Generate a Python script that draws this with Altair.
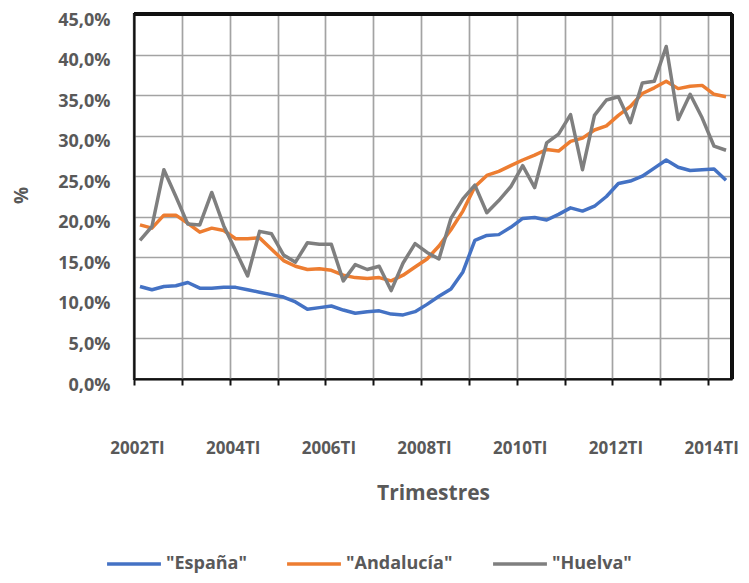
import json
import altair as alt
import pandas as pd

series_names = ['"España"', '"Andalucía"', '"Huelva"']
series_colors = ["#4472C4", "#ED7D31", "#7F7F7F"]

# Quarterly values, 2002TI .. 2014TII (50 quarters), in %
espana = [11.4, 11.0, 11.4, 11.5, 11.9, 11.2, 11.2, 11.3, 11.3, 11.0,
          10.7, 10.4, 10.1, 9.5, 8.6, 8.8, 9.0, 8.5, 8.1, 8.3,
          8.4, 8.0, 7.9, 8.3, 9.2, 10.2, 11.1, 13.2, 17.1, 17.7,
          17.8, 18.7, 19.8, 19.9, 19.6, 20.3, 21.1, 20.7, 21.3, 22.5,
          24.1, 24.4, 25.0, 26.0, 27.0, 26.1, 25.7, 25.8, 25.9, 24.5]
andalucia = [19.0, 18.6, 20.2, 20.2, 19.2, 18.1, 18.6, 18.3, 17.3, 17.3,
             17.4, 16.0, 14.6, 13.9, 13.5, 13.6, 13.4, 12.8, 12.5, 12.4,
             12.5, 12.1, 12.8, 13.8, 14.8, 16.4, 18.4, 20.7, 23.7, 25.1,
             25.6, 26.3, 27.0, 27.6, 28.3, 28.1, 29.3, 29.7, 30.7, 31.2,
             32.5, 33.6, 35.2, 35.9, 36.7, 35.8, 36.1, 36.2, 35.1, 34.8]
huelva = [17.1, 18.8, 25.8, 22.5, 19.1, 19.0, 23.0, 18.9, 15.8, 12.7,
          18.2, 17.9, 15.3, 14.4, 16.8, 16.6, 16.6, 12.1, 14.1, 13.5,
          13.9, 10.9, 14.3, 16.7, 15.6, 14.8, 19.8, 22.2, 23.9, 20.5,
          22.0, 23.7, 26.3, 23.6, 29.1, 30.2, 32.6, 25.8, 32.5, 34.4,
          34.8, 31.6, 36.5, 36.7, 41.0, 32.0, 35.1, 32.2, 28.7, 28.2]

tick_labels = ["2002TI", "2004TI", "2006TI", "2008TI", "2010TI", "2012TI", "2014TI"]
y_ticks = [0, 5, 10, 15, 20, 25, 30, 35, 40, 45]

rows = []
for name, vals in zip(series_names, [espana, andalucia, huelva]):
    for i, v in enumerate(vals):
        rows.append({"idx": i, "series": name, "value": v})
df = pd.DataFrame(rows)

n = len(espana)
x_domain = [-0.5, n - 0.5]
y_domain = [0, 45]
grid_values = [-0.5 + 4 * k for k in range(13)]

FONT = "Open Sans"
TXT = "#595959"
FRAME = "#111111"
GRID = "#a3a3a3"

x_scale = alt.Scale(domain=x_domain, nice=False, zero=False)
y_scale = alt.Scale(domain=y_domain, nice=False)

x_label_expr = (
    "(datum.value + 0.5) % 8 == 0 ? "
    + json.dumps(tick_labels)
    + "[(datum.value + 0.5) / 8] : ''"
)

lines = (
    alt.Chart(df)
    .mark_line(strokeWidth=3.5, strokeJoin="round")
    .encode(
        x=alt.X(
            "idx:Q",
            scale=x_scale,
            axis=alt.Axis(
                values=grid_values,
                labelExpr=x_label_expr,
                labelOffset=3,
                labelOverlap=False,
                labelFlush=False,
                labelBound=False,
                labelPadding=63,
                labelBaseline="middle",
                labelFont=FONT,
                labelFontSize=17,
                labelFontWeight="bold",
                labelColor=TXT,
                ticks=True,
                tickSize=6,
                tickWidth=2,
                tickColor=FRAME,
                grid=True,
                gridColor=GRID,
                gridWidth=1.7,
                domainColor=FRAME,
                domainWidth=2,
                title="Trimestres",
                titleFont=FONT,
                titleFontSize=21,
                titleFontWeight="bold",
                titleColor=TXT,
                titleBaseline="middle",
                titleY=114,
            ),
        ),
        y=alt.Y(
            "value:Q",
            scale=y_scale,
            axis=alt.Axis(
                values=y_ticks,
                labelExpr="replace(format(datum.value, '.1f'), '.', ',') + '%'",
                labelFont=FONT,
                labelFontSize=18,
                labelFontWeight="bold",
                labelColor=TXT,
                labelPadding=24,
                labelOffset=6,
                ticks=False,
                grid=True,
                gridColor=GRID,
                gridWidth=1.7,
                domainColor=FRAME,
                domainWidth=2,
                title="%",
                titleFont=FONT,
                titleFontSize=19,
                titleFontWeight="bold",
                titleColor=TXT,
                titleX=-113,
                titleY=181,
                titleBaseline="middle",
            ),
        ),
        color=alt.Color(
            "series:N",
            scale=alt.Scale(domain=series_names, range=series_colors),
            legend=alt.Legend(
                orient="none",
                legendX=-29,
                legendY=521,
                direction="horizontal",
                title=None,
                symbolType="stroke",
                symbolSize=2900,
                symbolStrokeWidth=3.5,
                labelFont=FONT,
                labelFontSize=18,
                labelFontWeight="bold",
                labelColor=TXT,
                labelOffset=3,
                columnPadding=33,
            ),
        ),
    )
)

# plot-area frame (top and right edges), drawn through the scales from the domain limits
top_edge = (
    alt.Chart(df)
    .mark_rule(color=FRAME, strokeWidth=2.4)
    .encode(
        x=alt.X(datum=x_domain[0], scale=x_scale),
        x2=alt.X2(datum=x_domain[1]),
        y=alt.Y(datum=y_domain[1], scale=y_scale),
    )
)
right_edge = (
    alt.Chart(df)
    .mark_rule(color=FRAME, strokeWidth=2.4)
    .encode(
        x=alt.X(datum=x_domain[1], scale=x_scale),
        y=alt.Y(datum=y_domain[0], scale=y_scale),
        y2=alt.Y2(datum=y_domain[1]),
    )
)

chart = (
    alt.layer(lines, top_edge, right_edge)
    .properties(
        width=598,
        height=365,
        autosize=alt.AutoSizeParams(type="none"),
        padding={"left": 126, "top": 6, "right": 8, "bottom": 196},
    )
    .configure(background="white")
    .configure_view(stroke=FRAME, strokeWidth=2.2)
)

chart.save("out.html", embed_options={"renderer": "svg", "actions": False})
